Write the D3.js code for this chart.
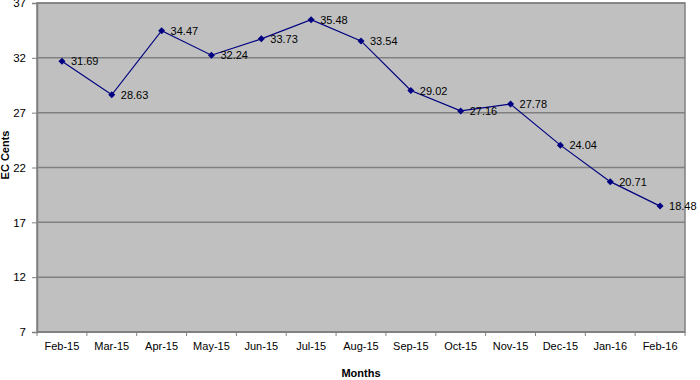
<!DOCTYPE html>
<html>
<head>
<meta charset="utf-8">
<script src="https://cdn.jsdelivr.net/npm/d3@7"></script>
<style>
  body { margin: 0; background: #fff; }
  text { font-family: "Liberation Sans", Arial, sans-serif; }
</style>
</head>
<body>
<svg id="chart" width="700" height="380"></svg>
<script>
const months = ["Feb-15", "Mar-15", "Apr-15", "May-15", "Jun-15", "Jul-15", "Aug-15",
  "Sep-15", "Oct-15", "Nov-15", "Dec-15", "Jan-16", "Feb-16"];
const cents = [31.69, 28.63, 34.47, 32.24, 33.73, 35.48, 33.54, 29.02, 27.16, 27.78, 24.04, 20.71, 18.48];
const yTicks = [7, 12, 17, 22, 27, 32, 37];

const svg = d3.select("#chart");
const plot = { left: 37, right: 685, top: 3, bottom: 332 };
const fontSize = "11px";

const x = d3.scaleBand().domain(months).range([plot.left, plot.right]);
const y = d3.scaleLinear().domain([7, 37]).range([plot.bottom, plot.top]);

// plot background
svg.append("rect")
  .attr("x", plot.left)
  .attr("y", plot.top)
  .attr("width", plot.right - plot.left)
  .attr("height", plot.bottom - plot.top)
  .style("fill", "#c0c0c0")
  .style("stroke", "#808080")
  .style("stroke-width", 1.5);

// gridlines
svg.append("g")
  .selectAll("line")
  .data(yTicks)
  .join("line")
  .attr("x1", plot.left)
  .attr("x2", plot.right)
  .attr("y1", d => y(d))
  .attr("y2", d => y(d))
  .style("stroke", "#808080")
  .style("stroke-width", 1.5);

// y axis
const yAxis = svg.append("g")
  .attr("transform", "translate(" + plot.left + ",0)")
  .call(d3.axisLeft(y).tickValues(yTicks).tickSize(5).tickPadding(6));
yAxis.select(".domain").style("stroke", "#808080").style("stroke-width", 1.5);
yAxis.selectAll(".tick line").style("stroke", "#808080");
yAxis.selectAll("text").style("font-size", "11.5px").style("fill", "#000");

// x axis: ticks sit on the band edges
const xAxis = svg.append("g")
  .attr("transform", "translate(0," + plot.bottom + ")");
xAxis.append("line")
  .attr("x1", plot.left)
  .attr("x2", plot.right)
  .style("stroke", "#808080")
  .style("stroke-width", 1.5);
xAxis.selectAll("line.tick")
  .data(months.concat(["end"]))
  .join("line")
  .attr("class", "tick")
  .attr("x1", (d, i) => plot.left + i * x.step())
  .attr("x2", (d, i) => plot.left + i * x.step())
  .attr("y1", 0)
  .attr("y2", 4)
  .style("stroke", "#808080");
xAxis.selectAll("text")
  .data(months)
  .join("text")
  .attr("x", d => x(d) + x.bandwidth() / 2)
  .attr("y", 18)
  .attr("text-anchor", "middle")
  .style("font-size", fontSize)
  .text(d => d);

// axis titles
svg.append("text")
  .attr("x", 361)
  .attr("y", 377)
  .attr("text-anchor", "middle")
  .style("font-size", fontSize)
  .style("font-weight", "bold")
  .text("Months");

svg.append("text")
  .attr("transform", "translate(9,155) rotate(-90)")
  .attr("text-anchor", "middle")
  .style("font-size", fontSize)
  .style("font-weight", "bold")
  .text("EC Cents");

// line
const px = (d, i) => x(months[i]) + x.bandwidth() / 2;
svg.append("path")
  .datum(cents)
  .attr("d", d3.line().x(px).y(d => y(d)))
  .style("fill", "none")
  .style("stroke", "#000080")
  .style("stroke-width", 1.2);

// diamond markers
svg.append("g")
  .selectAll("path")
  .data(cents)
  .join("path")
  .attr("transform", (d, i) => "translate(" + px(d, i) + "," + y(d) + ")")
  .attr("d", "M0,-3.5L3.5,0L0,3.5L-3.5,0Z")
  .style("fill", "#000080");

// value labels
svg.append("g")
  .selectAll("text")
  .data(cents)
  .join("text")
  .attr("x", (d, i) => px(d, i) + 9)
  .attr("y", d => y(d) + 4)
  .style("font-size", fontSize)
  .text(d => d.toFixed(2));
</script>
</body>
</html>
